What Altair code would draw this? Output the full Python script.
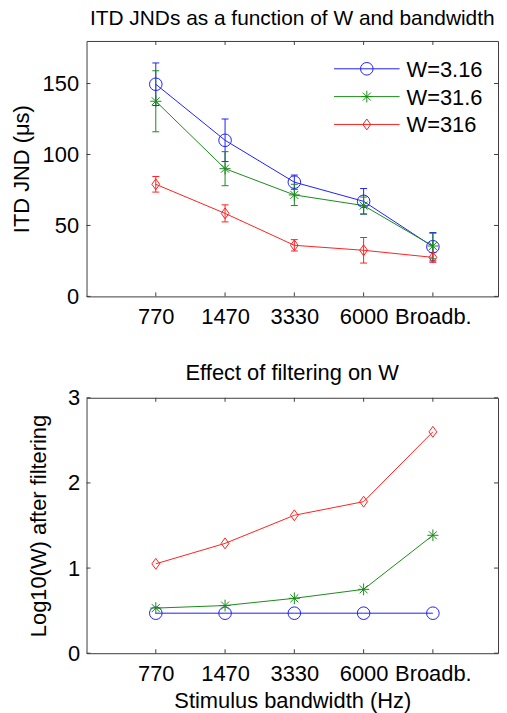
import json
import altair as alt
import pandas as pd

# ---------------- data ----------------
categories = ["770", "1470", "3330", "6000", "Broadb."]
series_names = ["W=3.16", "W=31.6", "W=316"]
series_colors = ["#1f1fff", "#1a8a1a", "#ff2020"]

jnd_w3 = [149.5, 110.0, 80.5, 67.0, 35.0]
jnd_w31 = [137.5, 90.0, 71.5, 64.0, 35.5]
jnd_w316 = [79.0, 58.5, 36.0, 32.5, 27.5]
err_w3 = [15.0, 15.0, 5.0, 9.0, 10.0]
err_w31 = [21.5, 12.0, 7.5, 6.0, 9.0]
err_w316 = [5.5, 6.0, 4.0, 9.0, 3.5]

logw_w3 = [0.47, 0.47, 0.47, 0.47, 0.47]
logw_w31 = [0.53, 0.56, 0.645, 0.75, 1.385]
logw_w316 = [1.05, 1.29, 1.62, 1.78, 2.60]

top_y_ticks = [0, 50, 100, 150]
bottom_y_ticks = [0, 1, 2, 3]
top_y_domain = [0, 180]
bottom_y_domain = [0, 3]
x_domain = [0, 5.94]

# ---------------- tables ----------------
positions = list(range(1, len(categories) + 1))
rows = []
for name, vals, errs, logs in zip(series_names,
                                  [jnd_w3, jnd_w31, jnd_w316],
                                  [err_w3, err_w31, err_w316],
                                  [logw_w3, logw_w31, logw_w316]):
    for p, c, v, e, lg in zip(positions, categories, vals, errs, logs):
        rows.append(dict(series=name, cat=c, pos=p, jnd=v, lo=v - e, hi=v + e, logw=lg))
df = pd.DataFrame(rows)
legend_df = pd.DataFrame({"series": series_names})
xt_df = pd.DataFrame({"pos": positions})

FONT = "Liberation Sans, Arial, Helvetica, sans-serif"
FS = 22
W, H = 414, 257
FRAME = "#3c3c3c"
TICK = 4

star_path = "M0,-1L0,1M-0.95,0L0.95,0M-0.68,-0.68L0.68,0.68M-0.68,0.68L0.68,-0.68"
diamond_path = "M0,-1L0.72,0L0,1L-0.72,0Z"

color_enc = alt.Color("series:N", scale=alt.Scale(domain=series_names, range=series_colors), legend=None)
shape_enc = alt.Shape("series:N", scale=alt.Scale(domain=series_names, range=["circle", star_path, diamond_path]), legend=None)
size_enc = alt.Size("series:N", scale=alt.Scale(domain=series_names, range=[160, 120, 290]), legend=None)

label_expr = json.dumps(categories) + "[datum.value - 1]"


def panel(yfield, ydomain, yticks, ytitle, xtitle, y_label_pad, y_title_pad, errbars):
    xsc = alt.Scale(domain=x_domain)
    ysc = alt.Scale(domain=ydomain)
    xax = alt.Axis(values=positions, labelExpr=label_expr, title=xtitle,
                   labelPadding=10, titlePadding=7)
    yax = alt.Axis(values=yticks, title=ytitle, labelPadding=y_label_pad, titlePadding=y_title_pad)

    def X(field):
        return alt.X(f"{field}:Q", scale=xsc, axis=xax)

    def Y(field):
        return alt.Y(f"{field}:Q", scale=ysc, axis=yax)

    base = alt.Chart(df)
    line = base.mark_line(strokeWidth=1).encode(
        x=X("pos"), y=Y(yfield), color=color_enc, detail="series:N", order="pos:Q")
    pts = base.mark_point(filled=False, strokeWidth=1, opacity=1).encode(
        x=X("pos"), y=Y(yfield), color=color_enc, shape=shape_enc, size=size_enc)
    layers = []
    if errbars:
        vbar = base.mark_rule(strokeWidth=1).encode(
            x=X("pos"), y=Y("lo"), y2="hi:Q", color=color_enc)
        cap_lo = base.mark_rule(strokeWidth=1, xOffset=-3.5, x2Offset=3.5).encode(
            x=X("pos"), x2="pos:Q", y=Y("lo"), color=color_enc)
        cap_hi = base.mark_rule(strokeWidth=1, xOffset=-3.5, x2Offset=3.5).encode(
            x=X("pos"), x2="pos:Q", y=Y("hi"), color=color_enc)
        layers += [vbar, cap_lo, cap_hi]
    # inward ticks (matlab style)
    xt = alt.Chart(xt_df)
    t_bot = xt.mark_rule(color=FRAME).encode(x=X("pos"), y=alt.value(H), y2=alt.value(H - TICK))
    t_top = xt.mark_rule(color=FRAME).encode(x=X("pos"), y=alt.value(0), y2=alt.value(TICK))
    yt = alt.Chart(pd.DataFrame({"yt": yticks}))
    t_left = yt.mark_rule(color=FRAME).encode(y=Y("yt"), x=alt.value(0), x2=alt.value(TICK))
    t_right = yt.mark_rule(color=FRAME).encode(y=Y("yt"), x=alt.value(W), x2=alt.value(W - TICK))
    return alt.layer(t_bot, t_top, t_left, t_right, *layers, line, pts)


top_main = panel("jnd", top_y_domain, top_y_ticks, "ITD JND (μs)", None, 8, 9, True)

leg_y = alt.Y("series:N", scale=alt.Scale(type="point", domain=series_names, range=[28, 84], padding=0), axis=None)
leg_base = alt.Chart(legend_df)
leg_line = leg_base.mark_rule(strokeWidth=1).encode(x=alt.value(249), x2=alt.value(315), y=leg_y, color=color_enc)
leg_pts = leg_base.mark_point(filled=False, strokeWidth=1, opacity=1).encode(
    x=alt.value(282), y=leg_y, color=color_enc, shape=shape_enc, size=size_enc)
leg_txt = leg_base.mark_text(align="left", baseline="middle", font=FONT, fontSize=FS, color="black", dy=1).encode(
    x=alt.value(322), y=leg_y, text="series:N")
legend = alt.layer(leg_line, leg_pts, leg_txt)

top = alt.layer(top_main, legend).resolve_scale(y="independent").properties(
    width=W, height=H,
    title=alt.TitleParams("ITD JNDs as a function of W and bandwidth", offset=12, fontSize=21))

bottom = panel("logw", bottom_y_domain, bottom_y_ticks, "Log10(W) after filtering",
               "Stimulus bandwidth (Hz)", 7, 17, False).properties(
    width=W, height=H,
    title=alt.TitleParams("Effect of filtering on W", offset=2, fontSize=22))

chart = alt.vconcat(top, bottom, spacing=33).properties(
    padding={"left": 1, "top": -3, "right": 0, "bottom": 0}
).configure_axis(
    labelFont=FONT, labelFontSize=FS, labelColor="black",
    titleFont=FONT, titleFontSize=FS, titleFontWeight="normal", titleColor="black",
    domain=False, ticks=False, grid=False
).configure_title(
    font=FONT, fontWeight="normal", color="black", anchor="middle", frame="group"
).configure_view(stroke=FRAME, strokeWidth=1)

chart.save("out.html", embed_options={"renderer": "svg", "actions": False})
